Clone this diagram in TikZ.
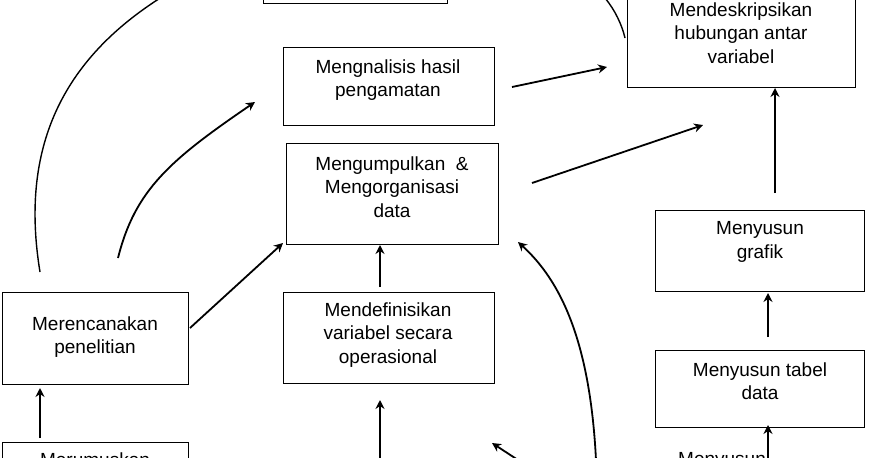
\documentclass[tikz,border=0pt]{standalone}
\usepackage{fontspec}
\setmainfont{Liberation Sans}
\usetikzlibrary{arrows.meta}
\begin{document}
\begin{tikzpicture}[x=1pt,y=-1pt,
  box/.style={draw,line width=1pt,inner sep=0pt},
  lbl/.style={align=center,font=\fontsize{19}{23.5}\selectfont},
  arr/.style={line width=1.8pt,-{Stealth[length=9pt,width=9pt]}},
  ln/.style={line width=1.4pt}]
\useasboundingbox (0,0) rectangle (871,458);
\clip (0,0) rectangle (871,458);
\draw[box] (263,-40) rectangle (447,3);
\draw[box] (627,-20) rectangle (855,87);
\node[lbl] (d) at (741,33) {Mendeskripsikan\\hubungan antar\\variabel};
\draw[box] (283,47) rectangle (494,125);
\node[lbl] (a) at (388,80) {Mengnalisis hasil\\pengamatan};
\draw[box] (286,143) rectangle (498,244);
\node[lbl] (k) at (392,187) {Mengumpulkan \ \&\\Mengorganisasi\\data};
\draw[box] (655,210) rectangle (864,291);
\node[lbl] (g) at (760,242) {Menyusun\\grafik};
\draw[box] (2,292) rectangle (188,384);
\node[lbl] (r) at (95,337) {Merencanakan\\penelitian};
\draw[box] (283,292) rectangle (494,383);
\node[lbl] (v) at (388,335) {Mendefinisikan\\variabel secara\\operasional};
\draw[box] (655,350) rectangle (864,427);
\node[lbl] (t) at (760,381) {Menyusun tabel\\data};
\draw[box] (2,442) rectangle (188,520);
\node[lbl,anchor=north] (m) at (95,449) {Merumuskan};
\node[lbl,anchor=north west,inner sep=0pt] (m2) at (678,452) {Menyusun};
\coordinate (c1) at (40,438); \coordinate (c2) at (40,388);
\draw[arr] (c1) -- (c2);
\coordinate (c3) at (40,272); \coordinate (c4) at (165,-5);
\draw[ln] (c3) .. controls (20,150) and (60,60) .. (c4);
\coordinate (c5) at (118,258); \coordinate (c6) at (255,102);
\draw[arr] (c5) .. controls (135,190) and (170,160) .. (c6);
\coordinate (c7) at (190,328); \coordinate (c8) at (283,243);
\draw[arr] (c7) -- (c8);
\coordinate (c9) at (380,287); \coordinate (c10) at (380,245);
\draw[arr] (c9) -- (c10);
\coordinate (c11) at (380,460); \coordinate (c12) at (380,400);
\draw[arr] (c11) -- (c12);
\coordinate (c13) at (512,87); \coordinate (c14) at (607,67);
\draw[arr] (c13) -- (c14);
\coordinate (c15) at (532,183); \coordinate (c16) at (703,125);
\draw[arr] (c15) -- (c16);
\coordinate (c17) at (775,193); \coordinate (c18) at (775,88);
\draw[arr] (c17) -- (c18);
\coordinate (c19) at (768,337); \coordinate (c20) at (768,293);
\draw[arr] (c19) -- (c20);
\coordinate (c21) at (768,460); \coordinate (c22) at (768,425);
\draw[arr] (c21) -- (c22);
\coordinate (c23) at (596,460); \coordinate (c24) at (518,242);
\draw[arr] (c23) .. controls (590,340) and (560,280) .. (c24);
\coordinate (c25) at (518,460); \coordinate (c26) at (492,443);
\draw[arr] (c25) -- (c26);
\coordinate (c27) at (605,-2); \coordinate (c28) at (625,38);
\draw[ln] (c27) .. controls (615,10) and (622,25) .. (c28);
\end{tikzpicture}
\end{document}
